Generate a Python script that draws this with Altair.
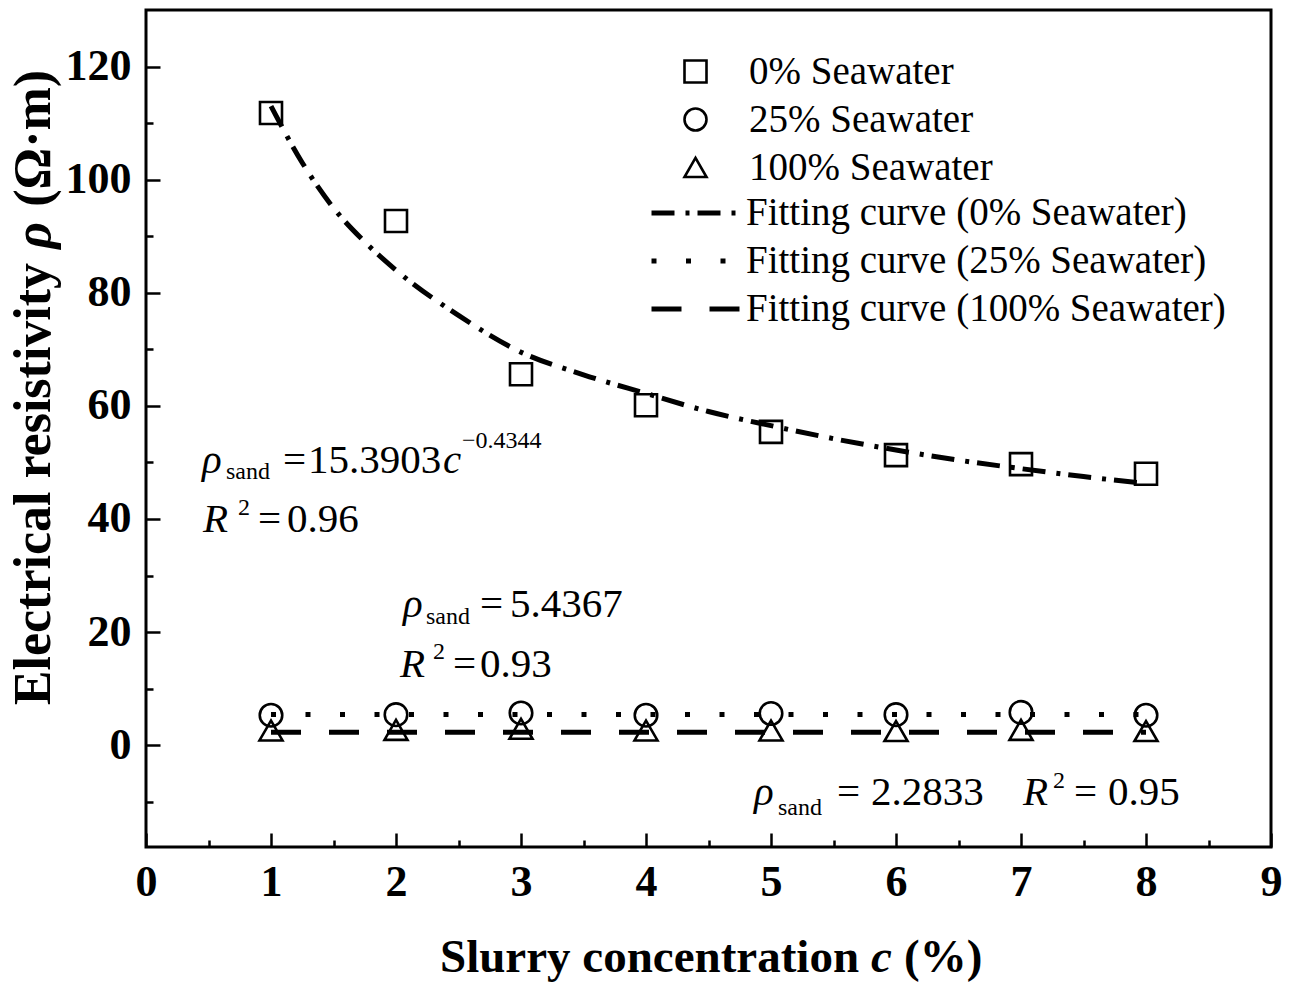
import altair as alt
import pandas as pd

# ---------------- data ----------------
conc = [1, 2, 3, 4, 5, 6, 7, 8]
rho_0 = [111.8, 92.7, 65.6, 60.1, 55.4, 51.3, 49.7, 48.0]
rho_25 = [5.3, 5.4, 5.7, 5.3, 5.6, 5.4, 5.8, 5.3]
rho_100 = [2.6, 2.7, 2.9, 2.6, 2.6, 2.5, 2.7, 2.5]
series_names = ["0% Seawater", "25% Seawater", "100% Seawater"]

fit0_c = [1, 1.25, 1.5, 1.75, 2, 2.5, 3, 3.5, 4, 4.5, 5, 5.5, 6, 6.5, 7, 7.5, 8]
fit0_rho = [113, 103, 95, 89, 84, 76, 69.5, 65.5, 62.2, 59, 56.5, 54.2, 52.2, 50.4, 48.9, 47.5, 46.3]
fit25_c = [1, 8]
fit25_rho = [5.4367, 5.4367]
fit100_c = [1, 8]
fit100_rho = [2.2833, 2.2833]
fit_names = ["Fitting curve (0% Seawater)", "Fitting curve (25% Seawater)",
             "Fitting curve (100% Seawater)"]

# annotation pieces (text, c-position, rho-position, font size, italic)
ann_text = ["ρ", "sand", "=", "15.3903", "c", "−0.4344",
            "R", "2", "=", "0.96",
            "ρ", "sand", "=", "5.4367",
            "R", "2", "=", "0.93",
            "ρ", "sand", "=", "2.2833",
            "R", "2", "=", "0.95"]
ann_c = [0.448, 0.640, 1.096, 1.296, 2.376, 2.528,
         0.456, 0.736, 0.896, 1.128,
         2.056, 2.240, 2.672, 2.912,
         2.032, 2.296, 2.456, 2.672,
         4.864, 5.056, 5.528, 5.80,
         7.016, 7.256, 7.424, 7.696]
ann_rho = [48.1, 47.0, 48.1, 48.1, 48.1, 52.5,
           37.7, 40.7, 37.7, 37.7,
           22.6, 21.4, 22.6, 22.6,
           12.0, 15.2, 12.0, 12.0,
           -10.6, -12.4, -10.6, -10.6,
           -10.6, -7.5, -10.6, -10.6]
ann_size = [41, 24, 41, 41, 41, 24,
            41, 24, 41, 41,
            41, 24, 41, 41,
            41, 24, 41, 41,
            41, 24, 41, 41,
            41, 24, 41, 41]
ann_italic = [True, False, False, False, True, False,
              True, False, False, False,
              True, False, False, False,
              True, False, False, False,
              True, False, False, False,
              True, False, False, False]

# axis titles, written in pieces so that c and ρ can be italic
xt_text = ["Slurry concentration", "c", "(%)"]
xt_c = [2.352, 5.80, 6.064]
xt_rho = [-40.1, -40.1, -40.1]
xt_italic = [False, True, False]

yt_text = ["Electrical resistivity", "ρ", "(Ω·m)"]
yt_c = [-0.768, -0.768, -0.768]
yt_rho = [7.07, 87.8, 95.2]
yt_italic = [False, True, False]

# ---------------- tables ----------------
pts = pd.DataFrame({
    "c": conc * 3,
    "rho": rho_0 + rho_25 + rho_100,
    "series": [series_names[0]] * 8 + [series_names[1]] * 8 + [series_names[2]] * 8,
})
lines = pd.DataFrame({
    "c": fit0_c + fit25_c + fit100_c,
    "rho": fit0_rho + fit25_rho + fit100_rho,
    "curve": [fit_names[0]] * len(fit0_c) + [fit_names[1]] * 2 + [fit_names[2]] * 2,
})
ann = pd.DataFrame({"c": ann_c, "rho": ann_rho, "txt": ann_text,
                    "fs": ann_size, "it": ann_italic})
xt = pd.DataFrame({"c": xt_c, "rho": xt_rho, "txt": xt_text, "it": xt_italic})
yt = pd.DataFrame({"c": yt_c, "rho": yt_rho, "txt": yt_text, "it": yt_italic})

SERIF = "Liberation Serif"

xscale = alt.Scale(domain=[0, 9], nice=False, zero=False)
yscale = alt.Scale(domain=[-18, 130], nice=False, zero=False)

xaxis = alt.Axis(
    values=[i * 0.5 for i in range(0, 19)],
    labelExpr="datum.value % 1 == 0 ? format(datum.value, 'd') : ''",
    offset=-14, tickSize=14, tickWidth=2.5, tickColor="black",
    tickDash={"condition": {"test": "datum.value % 1 != 0", "value": [0, 7, 7, 0]},
              "value": [14, 0]},
    domain=False, grid=False, labelOverlap=False, labelFlush=False,
    labelFont=SERIF, labelFontWeight="bold", labelFontSize=44, labelColor="black",
    labelPadding=13, title=None,
)
yaxis = alt.Axis(
    values=[v for v in range(-10, 121, 10)],
    labelExpr="datum.value % 20 == 0 ? format(datum.value, 'd') : ''",
    offset=-14, tickSize=14, tickWidth=2.5, tickColor="black",
    tickDash={"condition": {"test": "datum.value % 20 != 0", "value": [0, 7, 7, 0]},
              "value": [14, 0]},
    domain=False, grid=False, labelOverlap=False, labelFlush=False,
    labelFont=SERIF, labelFontWeight="bold", labelFontSize=44, labelColor="black",
    labelPadding=15, title=None,
)

points = alt.Chart(pts).mark_point(filled=False, color="black", strokeWidth=2.6, opacity=1).encode(
    x=alt.X("c:Q", scale=xscale, axis=xaxis),
    y=alt.Y("rho:Q", scale=yscale, axis=yaxis),
    shape=alt.Shape("series:N",
                    scale=alt.Scale(domain=series_names, range=["square", "circle", "triangle-up"]),
                    legend=alt.Legend(title=None, orient="none", legendX=530, legendY=42,
                                      labelFont=SERIF, labelFontSize=39, labelColor="black",
                                      labelLimit=0,
                                      symbolSize=484, symbolStrokeWidth=2.6,
                                      symbolStrokeColor="black", symbolFillColor="transparent",
                                      labelOffset=34, rowPadding=8, padding=0)),
    size=alt.Size("series:N",
                  scale=alt.Scale(domain=series_names, range=[484, 530, 950]),
                  legend=None),
)

fits = alt.Chart(lines).mark_line(color="black", strokeWidth=5, interpolate="monotone").encode(
    x=alt.X("c:Q", scale=xscale),
    y=alt.Y("rho:Q", scale=yscale),
    strokeDash=alt.StrokeDash("curve:N",
                              scale=alt.Scale(domain=fit_names,
                                              range=[[23, 11, 4, 8], [5, 29.5], [30, 28]]),
                              legend=alt.Legend(title=None, orient="none", legendX=503, legendY=183,
                                                labelFont=SERIF, labelFontSize=39,
                                                labelColor="black", labelLimit=0,
                                                symbolType="stroke",
                                                symbolSize=8464, symbolStrokeWidth=5,
                                                symbolStrokeColor="black", labelOffset=0,
                                                rowPadding=8, clipHeight=40, padding=0)),
)

text_base = alt.Chart(ann)
text_normal = text_base.transform_filter("!datum.it").mark_text(
    font=SERIF, align="left", baseline="alphabetic", color="black").encode(
    x=alt.X("c:Q", scale=xscale), y=alt.Y("rho:Q", scale=yscale),
    text="txt:N", size=alt.Size("fs:Q", scale=None, legend=None))
text_italic = text_base.transform_filter("datum.it").mark_text(
    font=SERIF, fontStyle="italic", align="left", baseline="alphabetic", color="black").encode(
    x=alt.X("c:Q", scale=xscale), y=alt.Y("rho:Q", scale=yscale),
    text="txt:N", size=alt.Size("fs:Q", scale=None, legend=None))


def title_layer(df, italic, angle, size):
    kw = dict(font=SERIF, fontWeight="bold", fontSize=size, align="left",
              baseline="alphabetic", color="black", angle=angle)
    if italic:
        kw["fontStyle"] = "italic"
    flt = "datum.it" if italic else "!datum.it"
    return alt.Chart(df).transform_filter(flt).mark_text(**kw).encode(
        x=alt.X("c:Q", scale=xscale), y=alt.Y("rho:Q", scale=yscale), text="txt:N")


xt_n = title_layer(xt, False, 0, 47)
xt_i = title_layer(xt, True, 0, 47)
yt_n = title_layer(yt, False, 270, 52)
yt_i = title_layer(yt, True, 270, 52)

chart = alt.layer(fits, points, text_normal, text_italic, xt_n, xt_i, yt_n, yt_i).resolve_scale(
    size="independent"
).properties(
    width=1125, height=837,
    autosize=alt.AutoSizeParams(type="none"),
    padding={"left": 146, "top": 10, "right": 22, "bottom": 138},
    background="white",
).configure_view(stroke="black", strokeWidth=3)

chart.save("out.html", embed_options={"renderer": "svg", "actions": False})
